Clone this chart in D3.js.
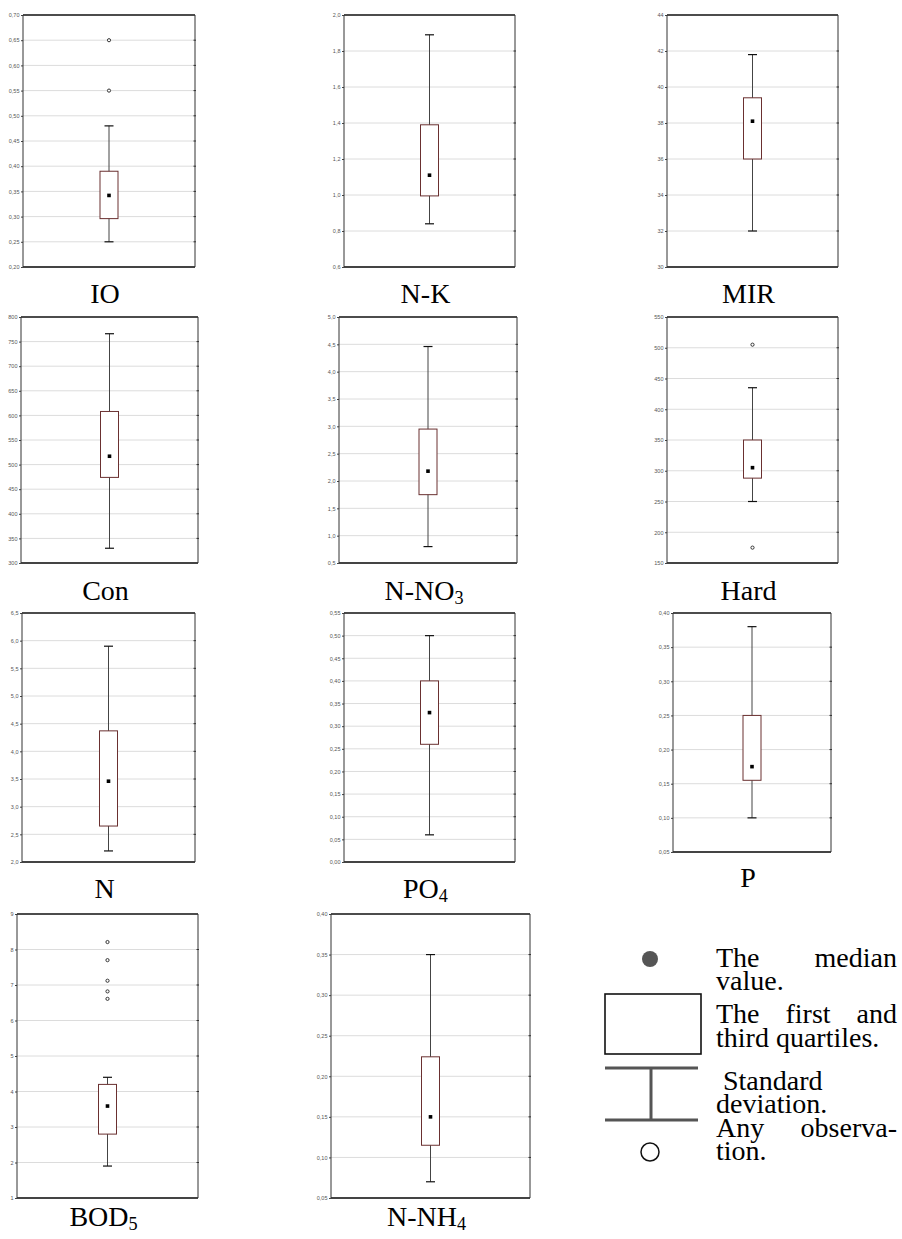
<!DOCTYPE html>
<html lang='en'>
  <meta charset='utf-8'>
  <style>
    body{
      margin: 0;
      background: #fff;
    }
    svg{
      display: block;
    }
    text.tick{
      font-family: 'Liberation Sans', Arial, sans-serif;
      font-size: 5.5px;
      fill: #555;
    }
    text.name, text.legend{
      font-family: 'Liberation Serif', 'Times New Roman', serif;
      font-size: 28px;
      fill: #000;
    }
  </style>
  <body>
    <svg class='chart' width='902' height='1239'></svg>

    <script src='https://d3js.org/d3.v7.min.js'></script>
    <script>
      // values, one entry per panel
      const labelMain = ['IO', 'N-K', 'MIR', 'Con', 'N-NO', 'Hard', 'N', 'PO', 'P', 'BOD', 'N-NH']
      const labelSub = ['', '', '', '', '3', '', '', '4', '', '5', '4']

      const axisMin = [0.20, 0.6, 30, 300, 0.5, 150, 2.0, 0.00, 0.05, 1, 0.05]
      const axisMax = [0.70, 2.0, 44, 800, 5.0, 550, 6.5, 0.55, 0.40, 9, 0.40]
      const axisStep = [0.05, 0.2, 2, 50, 0.5, 50, 0.5, 0.05, 0.05, 1, 0.05]
      const axisDigits = [2, 1, 0, 0, 1, 0, 1, 2, 2, 0, 2]

      const whiskerLow = [0.25, 0.84, 32.0, 330, 0.80, 250, 2.2, 0.06, 0.10, 1.9, 0.07]
      const q1 = [0.296, 0.995, 36.0, 474, 1.75, 288, 2.65, 0.26, 0.155, 2.8, 0.115]
      const medians = [0.342, 1.11, 38.1, 517, 2.18, 305, 3.46, 0.33, 0.175, 3.59, 0.15]
      const q3 = [0.39, 1.39, 39.4, 608, 2.95, 350, 4.37, 0.40, 0.25, 4.2, 0.224]
      const whiskerHigh = [0.48, 1.89, 41.8, 766, 4.46, 435, 5.9, 0.50, 0.38, 4.4, 0.35]
      const outliers = [[0.55, 0.65], [], [], [], [], [175, 505], [], [], [], [6.61, 6.82, 7.12, 7.70, 8.21], []]

      const legendLines = ['The median', 'value.', 'The first and', 'third quartiles.', ' Standard', 'deviation.', 'Any observa-', 'tion.']
      const legendJustify = [true, false, true, false, false, false, true, false]

      // frame of each panel: left, top, right, bottom
      const panelBox = [
        [23, 15, 195, 267], [344, 15, 515, 267], [667, 15, 838, 267],
        [21, 317, 198, 563], [339, 317, 517, 563], [667, 317, 838, 563],
        [22, 613, 195, 862], [344, 613, 515, 862], [673, 613, 831, 852],
        [17, 914, 198, 1198], [331, 914, 530, 1198]
      ]
      const nameGap = [36, 36, 36, 37, 37, 37, 36, 36, 35, 28, 28]
      const legendBase = [967, 990, 1023, 1047, 1090, 1113, 1137, 1160]

      const svg = d3.select('svg')
      svg.append('rect').attr('width', 902).attr('height', 1239).attr('fill', '#fff')

      const drawPanel = (i) => {
        const [x0, y0, x1, y1] = panelBox[i]
        const g = svg.append('g')
        const n = Math.round((axisMax[i] - axisMin[i]) / axisStep[i])
        const ticks = d3.range(0, n + 1).map((k) => axisMin[i] + k * axisStep[i])
        const fmt = d3.format(`.${axisDigits[i]}f`)

        const y = d3.scaleLinear().domain([axisMin[i], axisMax[i]]).range([y1, y0])
        const x = d3.scalePoint().domain([labelMain[i]]).range([x0, x1]).padding(0.5)
        const cx = x(labelMain[i])

        // grid
        g.append('g').selectAll('line')
          .data(ticks.slice(1, -1))
          .enter().append('line')
          .attr('x1', x0).attr('x2', x1)
          .attr('y1', (d) => y(d)).attr('y2', (d) => y(d))
          .attr('stroke', '#dcdcdc').attr('stroke-width', 1)

        // left axis
        const axis = d3.axisLeft(y).tickValues(ticks).tickSize(2).tickPadding(1.5)
          .tickFormat((d) => fmt(d).replace('.', ','))
        const ax = g.append('g').attr('transform', `translate(${x0},0)`).call(axis)
        ax.select('.domain').remove()
        ax.selectAll('line').attr('stroke', '#444')
        ax.selectAll('text').attr('class', 'tick').attr('font-size', null).attr('font-family', null).attr('fill', null)

        // right tick marks
        g.append('g').selectAll('line')
          .data(ticks.slice(1, -1))
          .enter().append('line')
          .attr('x1', x1 - 1.5).attr('x2', x1 + 1)
          .attr('y1', (d) => y(d)).attr('y2', (d) => y(d))
          .attr('stroke', '#333')

        // frame
        g.append('line').attr('x1', x0).attr('x2', x1).attr('y1', y0).attr('y2', y0)
          .attr('stroke', '#111').attr('stroke-width', 1.5)
        g.append('line').attr('x1', x0).attr('x2', x1).attr('y1', y1).attr('y2', y1)
          .attr('stroke', '#444').attr('stroke-width', 2)
        g.append('line').attr('x1', x0).attr('x2', x0).attr('y1', y0).attr('y2', y1)
          .attr('stroke', '#333').attr('stroke-width', 1)
        g.append('line').attr('x1', x1).attr('x2', x1).attr('y1', y0).attr('y2', y1)
          .attr('stroke', '#333').attr('stroke-width', 1)

        // whisker
        g.append('line').attr('x1', cx).attr('x2', cx)
          .attr('y1', y(whiskerLow[i])).attr('y2', y(whiskerHigh[i]))
          .attr('stroke', '#444').attr('stroke-width', 1)
        g.selectAll('.cap').data([whiskerLow[i], whiskerHigh[i]])
          .enter().append('line')
          .attr('x1', cx - 4.5).attr('x2', cx + 4.5)
          .attr('y1', (d) => y(d)).attr('y2', (d) => y(d))
          .attr('stroke', '#111').attr('stroke-width', 1.2)

        // box
        g.append('rect')
          .attr('x', cx - 9).attr('width', 18)
          .attr('y', y(q3[i])).attr('height', y(q1[i]) - y(q3[i]))
          .attr('fill', '#fff').attr('stroke', '#6a3030').attr('stroke-width', 1)

        // median
        g.append('rect')
          .attr('x', cx - 1.8).attr('y', y(medians[i]) - 1.8)
          .attr('width', 3.6).attr('height', 3.6)
          .attr('fill', '#000')

        // outliers
        g.selectAll('.out').data(outliers[i])
          .enter().append('circle')
          .attr('cx', cx).attr('cy', (d) => y(d)).attr('r', 1.6)
          .attr('fill', '#fff').attr('stroke', '#222').attr('stroke-width', 0.9)

        // name under the panel
        const name = g.append('text').attr('class', 'name')
          .attr('x', cx - 4).attr('y', y1 + nameGap[i])
          .attr('text-anchor', 'middle')
        name.append('tspan').text(labelMain[i])
        if (labelSub[i]) {
          name.append('tspan').attr('font-size', '0.65em').attr('dy', '0.2em').text(labelSub[i])
        }
      }

      labelMain.forEach((d, i) => drawPanel(i))

      // legend
      const lg = svg.append('g')
      lg.append('circle').attr('cx', 650).attr('cy', 959).attr('r', 8).attr('fill', '#555')
      lg.append('rect').attr('x', 605).attr('y', 994).attr('width', 96).attr('height', 60)
        .attr('fill', '#fff').attr('stroke', '#111').attr('stroke-width', 1.6)
      lg.append('line').attr('x1', 605).attr('x2', 698).attr('y1', 1068).attr('y2', 1068)
        .attr('stroke', '#555').attr('stroke-width', 3)
      lg.append('line').attr('x1', 605).attr('x2', 698).attr('y1', 1120).attr('y2', 1120)
        .attr('stroke', '#555').attr('stroke-width', 3)
      lg.append('line').attr('x1', 651).attr('x2', 651).attr('y1', 1068).attr('y2', 1120)
        .attr('stroke', '#555').attr('stroke-width', 3)
      lg.append('circle').attr('cx', 650).attr('cy', 1152).attr('r', 9)
        .attr('fill', '#fff').attr('stroke', '#111').attr('stroke-width', 1.5)

      const textLeft = 716, textRight = 897
      legendLines.forEach((line, i) => {
        const by = legendBase[i]
        const words = line.trim().split(' ')
        const indent = line.startsWith(' ') ? 7 : 0
        if (!legendJustify[i] || words.length < 2) {
          lg.append('text').attr('class', 'legend').attr('x', textLeft + indent).attr('y', by).text(line.trim())
          return
        }
        const nodes = words.map((w) => lg.append('text').attr('class', 'legend').attr('y', by).text(w))
        const widths = nodes.map((t) => t.node().getComputedTextLength())
        const gap = (textRight - textLeft - d3.sum(widths)) / (words.length - 1)
        let cur = textLeft
        nodes.forEach((t, k) => {
          t.attr('x', cur)
          cur += widths[k] + gap
        })
      })
    </script>
  </body>
</html>
